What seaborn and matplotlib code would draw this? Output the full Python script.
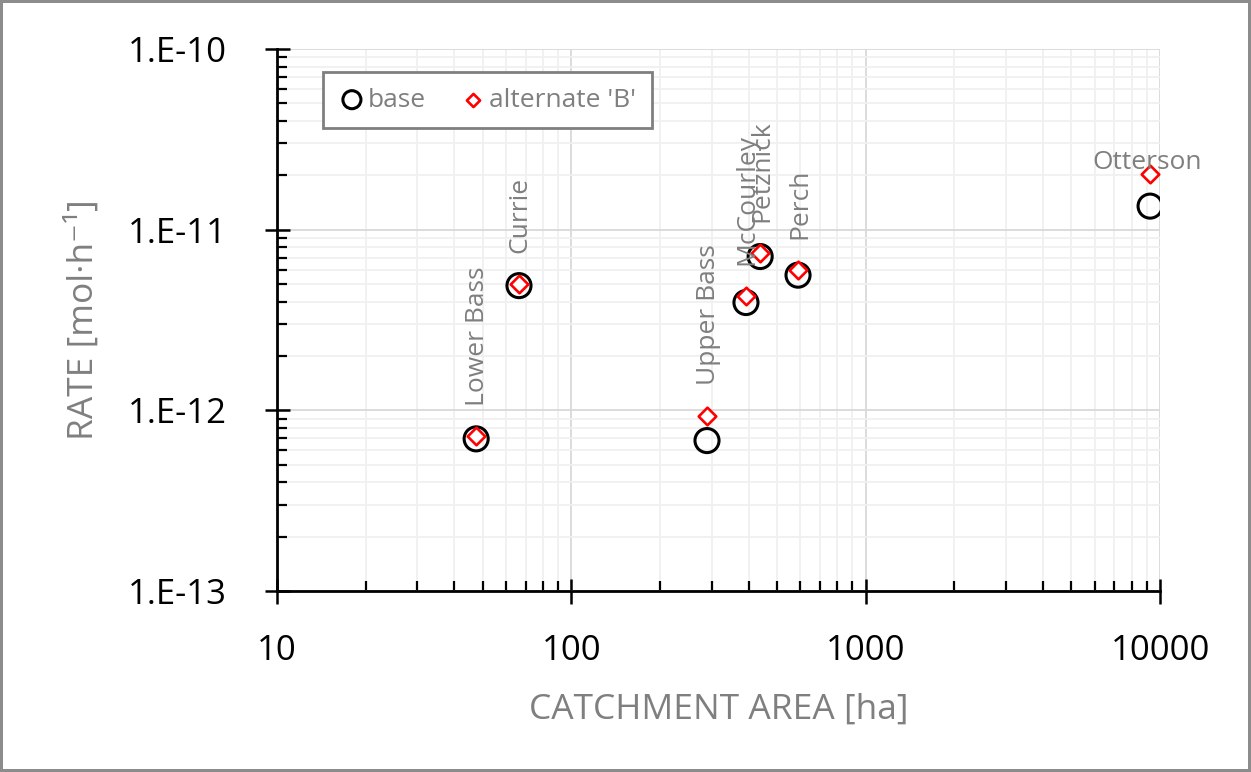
import numpy as np
import pandas as pd
import seaborn as sns
import matplotlib.pyplot as plt
from matplotlib.ticker import LogLocator, FuncFormatter, NullFormatter

# data
lakes = ["Lower Bass", "Currie", "Upper Bass", "McCourley", "Petznick", "Perch", "Otterson"]
area_ha = [47.5, 66.4, 289, 392, 438, 589, 9250]
rate_base = [6.95e-13, 4.9e-12, 6.8e-13, 3.95e-12, 7.1e-12, 5.6e-12, 1.35e-11]
rate_alt_b = [7.2e-13, 5.0e-12, 9.3e-13, 4.3e-12, 7.45e-12, 6.0e-12, 2.03e-11]

GRAY = "#7f7f7f"

sns.set_style("white")
plt.rcParams["font.family"] = ["Open Sans", "DejaVu Sans"]

df = pd.DataFrame({"lake": lakes, "area": area_ha, "base": rate_base, "alt": rate_alt_b})

fig = plt.figure(figsize=(12.51, 7.72), dpi=100, linewidth=3, edgecolor="#8c8c8c")
ax = fig.add_axes([0.2214, 0.2345, 0.7059, 0.702])

sns.scatterplot(data=df, x="area", y="base", marker="o", s=300, facecolor="none",
                edgecolor="black", linewidth=2.2, label="base", ax=ax, zorder=3)
sns.scatterplot(data=df, x="area", y="alt", marker="D", s=80, facecolor="white",
                edgecolor="#ff0000", linewidth=1.9, label="alternate 'B'", ax=ax, zorder=4)

ax.set_xscale("log")
ax.set_yscale("log")
ax.set_xlim(10, 10000)
ax.set_ylim(1e-13, 1e-10)

ax.xaxis.set_major_locator(LogLocator(base=10))
ax.yaxis.set_major_locator(LogLocator(base=10))
ax.xaxis.set_minor_locator(LogLocator(base=10, subs=np.arange(2, 10)))
ax.yaxis.set_minor_locator(LogLocator(base=10, subs=np.arange(2, 10)))
ax.xaxis.set_minor_formatter(NullFormatter())
ax.yaxis.set_minor_formatter(NullFormatter())
ax.xaxis.set_major_formatter(FuncFormatter(lambda v, p: f"{v:.0f}"))
ax.yaxis.set_major_formatter(FuncFormatter(lambda v, p: f"1.E{int(round(np.log10(v)))}"))

ax.grid(which="major", color="#d9d9d9", linewidth=1.3)
ax.grid(which="minor", color="#f0f0f0", linewidth=1.3)
ax.set_axisbelow(True)

for side in ["top", "right"]:
    ax.spines[side].set_visible(False)
for side in ["left", "bottom"]:
    ax.spines[side].set_color("black")
    ax.spines[side].set_linewidth(2)

ax.tick_params(which="both", bottom=True, left=True, top=False, right=False)
ax.tick_params(which="major", direction="inout", length=18, width=1.8, colors="black",
               labelsize=25)
ax.tick_params(which="minor", direction="in", length=7, width=1.6, colors="black")
ax.tick_params(axis="x", which="major", pad=22)
ax.tick_params(axis="y", which="major", pad=27)

ax.set_xlabel("CATCHMENT AREA [ha]", fontsize=25.5, color=GRAY, labelpad=18)
ax.set_ylabel("RATE [mol·h⁻¹]", fontsize=25.5, color=GRAY, labelpad=20)

# data labels
for name, x, y in zip(lakes, area_ha, rate_alt_b):
    if name == "Otterson":
        ax.annotate(name, (x, y), xytext=(-2, 4), textcoords="offset points",
                    ha="center", va="baseline", fontsize=19, color=GRAY, zorder=5)
    else:
        ax.annotate(name, (x, y), xytext=(1, 22), textcoords="offset points",
                    ha="center", va="bottom", rotation=90, fontsize=19, color=GRAY, zorder=5)

leg = ax.legend(loc="upper left", bbox_to_anchor=(0.052, 0.958), borderaxespad=0,
                ncol=2, fontsize=19, markerscale=0.75, handletextpad=0.1,
                columnspacing=1.3, handlelength=1.0, fancybox=False,
                borderpad=0.6, framealpha=1)
leg.get_frame().set_edgecolor(GRAY)
leg.get_frame().set_linewidth(2)
for t in leg.get_texts():
    t.set_color(GRAY)

fig.savefig("out.png", dpi=100)
